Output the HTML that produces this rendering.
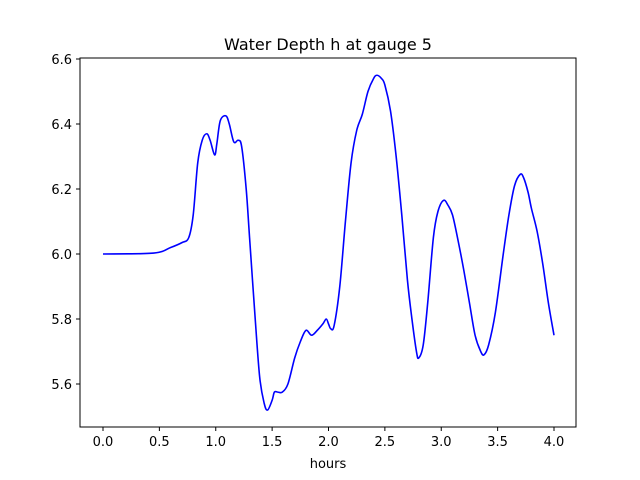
<!DOCTYPE html>
<html><head><meta charset="utf-8"><style>
body{margin:0;background:#fff}
svg{display:block;font-family:"DejaVu Sans","Liberation Sans",sans-serif}
</style></head><body>
<svg id="chart" width="640" height="480" viewBox="0 0 640 480">
<rect x="0" y="0" width="640" height="480" fill="#fff"/>
<text x="328" y="50" text-anchor="middle" font-size="16">Water Depth h at gauge 5</text>
<text x="328" y="468" text-anchor="middle" font-size="13">hours</text>
<g id="xticks"></g>
<g id="yticks"></g>
<path id="line" fill="none" stroke="#0000ff" stroke-width="1.6" stroke-linejoin="round"/>
<rect x="80" y="58" width="496" height="369" fill="none" stroke="#000" stroke-width="1"/>
</svg>
<script>
const hours=[0,0.45,0.6,0.7,0.76,0.8,0.84,0.88,0.92,0.95,0.99,1.01,1.04,1.09,1.12,1.16,1.2,1.23,1.27,1.3,1.35,1.39,1.43,1.46,1.5,1.52,1.55,1.59,1.64,1.7,1.75,1.8,1.85,1.9,1.95,1.98,2.0,2.02,2.05,2.1,2.15,2.2,2.25,2.3,2.35,2.4,2.43,2.47,2.5,2.55,2.6,2.65,2.7,2.74,2.78,2.8,2.84,2.88,2.93,2.97,3.02,3.06,3.1,3.15,3.2,3.25,3.3,3.35,3.38,3.42,3.48,3.55,3.6,3.65,3.7,3.73,3.77,3.8,3.85,3.9,3.95,4.0];
const depth=[6.0,6.003,6.02,6.035,6.05,6.12,6.28,6.35,6.37,6.35,6.305,6.34,6.41,6.425,6.4,6.345,6.35,6.33,6.2,6.05,5.8,5.62,5.54,5.52,5.55,5.575,5.575,5.575,5.6,5.68,5.73,5.765,5.75,5.765,5.785,5.8,5.785,5.77,5.78,5.9,6.1,6.28,6.38,6.43,6.5,6.54,6.55,6.54,6.52,6.44,6.3,6.12,5.92,5.8,5.7,5.68,5.72,5.85,6.05,6.13,6.165,6.15,6.12,6.04,5.95,5.85,5.75,5.7,5.69,5.72,5.82,6.0,6.12,6.21,6.245,6.235,6.19,6.14,6.07,5.97,5.85,5.75];
const xTickLabels=["0.0","0.5","1.0","1.5","2.0","2.5","3.0","3.5","4.0"];
const yTickLabels=["5.6","5.8","6.0","6.2","6.4","6.6"];
const X=t=>103+t*112.75;
const Y=v=>254-(v-6.0)*325;
const NS="http://www.w3.org/2000/svg";
function mk(tag,attrs,parent){const e=document.createElementNS(NS,tag);for(const k in attrs)e.setAttribute(k,attrs[k]);parent.appendChild(e);return e;}
const xg=document.getElementById('xticks'),yg=document.getElementById('yticks');
xTickLabels.forEach(l=>{const x=X(parseFloat(l));
const t=mk('line',{x1:x,x2:x,y1:427,y2:431,stroke:'#000'},xg);


const s=mk('text',{x:x,y:446,'text-anchor':'middle','font-size':'13'},xg);s.textContent=l;

});
yTickLabels.forEach(l=>{const y=Y(parseFloat(l));
const t=mk('line',{x1:76,x2:80,y1:y,y2:y,stroke:'#000'},yg);


const s=mk('text',{x:72,y:y+5,'text-anchor':'end','font-size':'13'},yg);s.textContent=l;

});
// smooth curve via Catmull-Rom
const pts=hours.map((h,i)=>[X(h),Y(depth[i])]);
let d='M'+pts[0][0]+','+pts[0][1];
for(let i=0;i<pts.length-1;i++){const p0=pts[Math.max(0,i-1)],p1=pts[i],p2=pts[i+1],p3=pts[Math.min(pts.length-1,i+2)];
const c1=[p1[0]+(p2[0]-p0[0])/6,p1[1]+(p2[1]-p0[1])/6],c2=[p2[0]-(p3[0]-p1[0])/6,p2[1]-(p3[1]-p1[1])/6];
d+=' C'+c1+' '+c2+' '+p2;}
document.getElementById('line').setAttribute('d',d);
</script>
</body></html>
